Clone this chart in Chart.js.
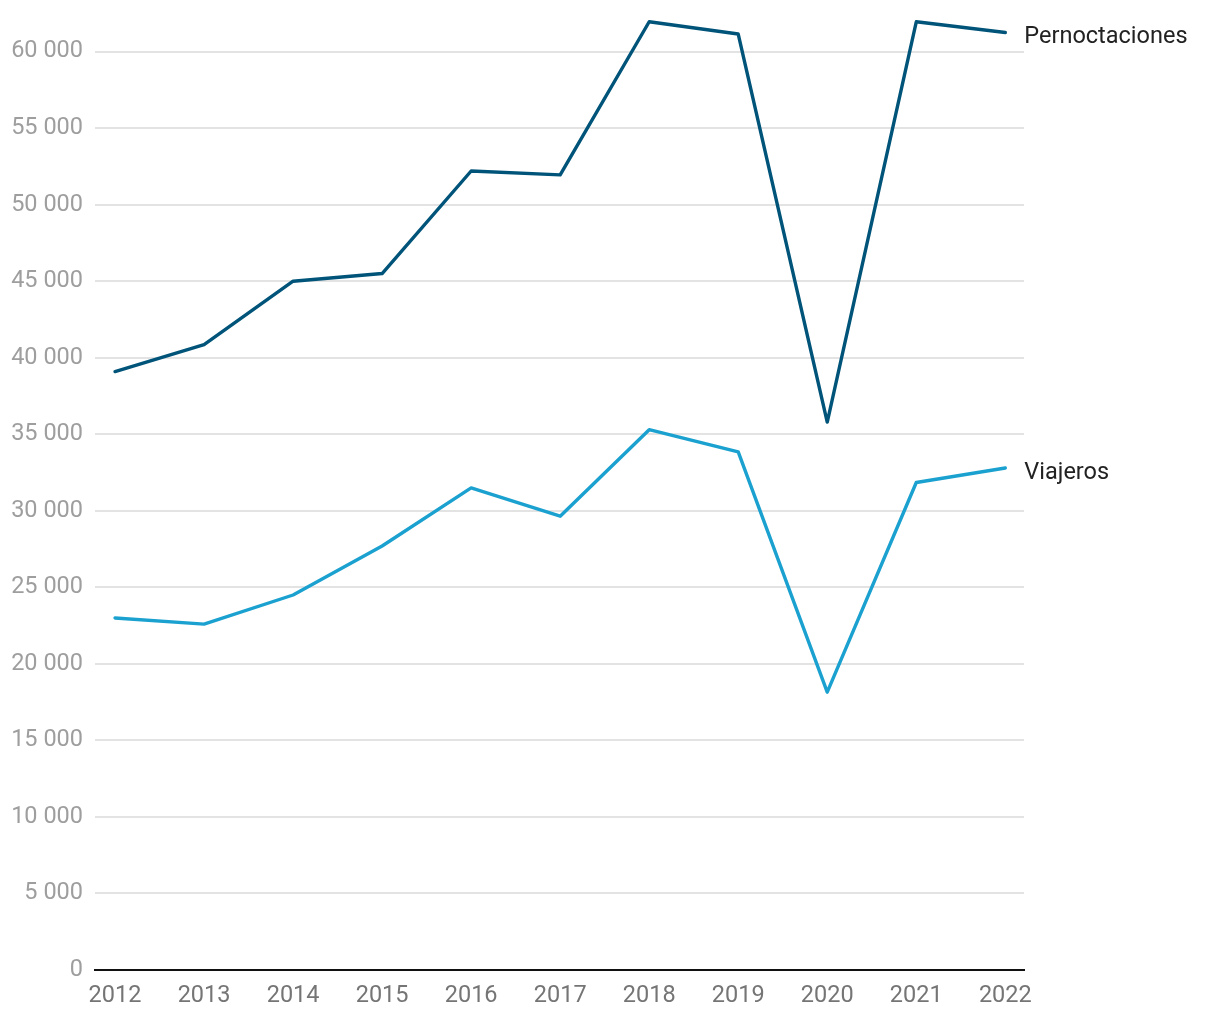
<!DOCTYPE html>
<html>
<head>
<meta charset="utf-8">
<script src="https://cdn.jsdelivr.net/npm/chart.js@4"></script>
<style>
html,body{margin:0;padding:0;background:#fff;}
#wrap{width:1220px;height:1020px;}
</style>
</head>
<body>
<div id="wrap"><canvas id="c" width="1220" height="1020"></canvas></div>
<script>
const years = [2012, 2013, 2014, 2015, 2016, 2017, 2018, 2019, 2020, 2021, 2022];
const yearLabels = ['2012','2013','2014','2015','2016','2017','2018','2019','2020','2021','2022'];
const pernoctaciones = [39100, 40850, 45000, 45500, 52200, 51950, 61950, 61150, 35800, 61950, 61250];
const viajeros = [23000, 22600, 24500, 27700, 31500, 29650, 35300, 33850, 18150, 31850, 32800];
const seriesNames = ['Pernoctaciones', 'Viajeros'];
const yTickValues = [0, 5000, 10000, 15000, 20000, 25000, 30000, 35000, 40000, 45000, 50000, 55000, 60000];

function fmt(v){
  return String(Math.round(v)).replace(/\B(?=(\d{3})+(?!\d))/g, ' ');
}
function pts(arr){ return years.map((y,i)=>({x:y, y:arr[i]})); }

const endLabels = {
  id:'endLabels',
  afterDatasetsDraw(chart){
    const ctx = chart.ctx;
    ctx.save();
    ctx.font = '23.5px Roboto';
    ctx.fillStyle = '#222222';
    ctx.textAlign = 'left';
    ctx.textBaseline = 'middle';
    chart.data.datasets.forEach((ds, i) => {
      const meta = chart.getDatasetMeta(i);
      const el = meta.data[meta.data.length-1];
      ctx.fillText(ds.label, el.x + 19, el.y + 5);
    });
    ctx.restore();
  }
};

new Chart(document.getElementById('c'), {
  type:'line',
  data:{
    datasets:[
      {label:seriesNames[0], data:pts(pernoctaciones), borderColor:'#005479', borderWidth:3.4, pointRadius:0, tension:0, borderCapStyle:'round', borderJoinStyle:'round', clip:false},
      {label:seriesNames[1], data:pts(viajeros), borderColor:'#1ba1cf', borderWidth:3.4, pointRadius:0, tension:0, borderCapStyle:'round', borderJoinStyle:'round', clip:false}
    ]
  },
  options:{
    responsive:false,
    animation:false,
    devicePixelRatio:1,
    layout:{padding:{top:21, right:196, left:0, bottom:0}},
    plugins:{legend:{display:false}, tooltip:{enabled:false}},
    scales:{
      x:{
        type:'linear',
        min:2011.775, max:2022.21,
        afterBuildTicks(s){ s.ticks = years.map(v=>({value:v})); },
        afterFit(s){ s.height = 50; s.paddingLeft = 0; s.paddingRight = 0; },
        grid:{display:false, drawTicks:false},
        border:{display:true, color:'#111111', width:2},
        ticks:{
          padding:12,
          color:'#757575',
          font:{family:'Roboto', size:23.5},
          maxRotation:0,
          autoSkip:false,
          callback(v){ const i = years.indexOf(v); return i>=0 ? yearLabels[i] : ''; }
        }
      },
      y:{
        min:0, max:62000,
        afterBuildTicks(s){ s.ticks = yTickValues.map(v=>({value:v})); },
        afterFit(s){ s.width = 95; s.paddingTop = 0; s.paddingBottom = 0; },
        grid:{color:'#e3e3e3', lineWidth:2, drawTicks:false},
        border:{display:false},
        ticks:{
          padding:12,
          color:'#9e9e9e',
          font:{family:'Roboto', size:23.5},
          callback(v){ return fmt(v); }
        }
      }
    }
  },
  plugins:[endLabels]
});
</script>
</body>
</html>
